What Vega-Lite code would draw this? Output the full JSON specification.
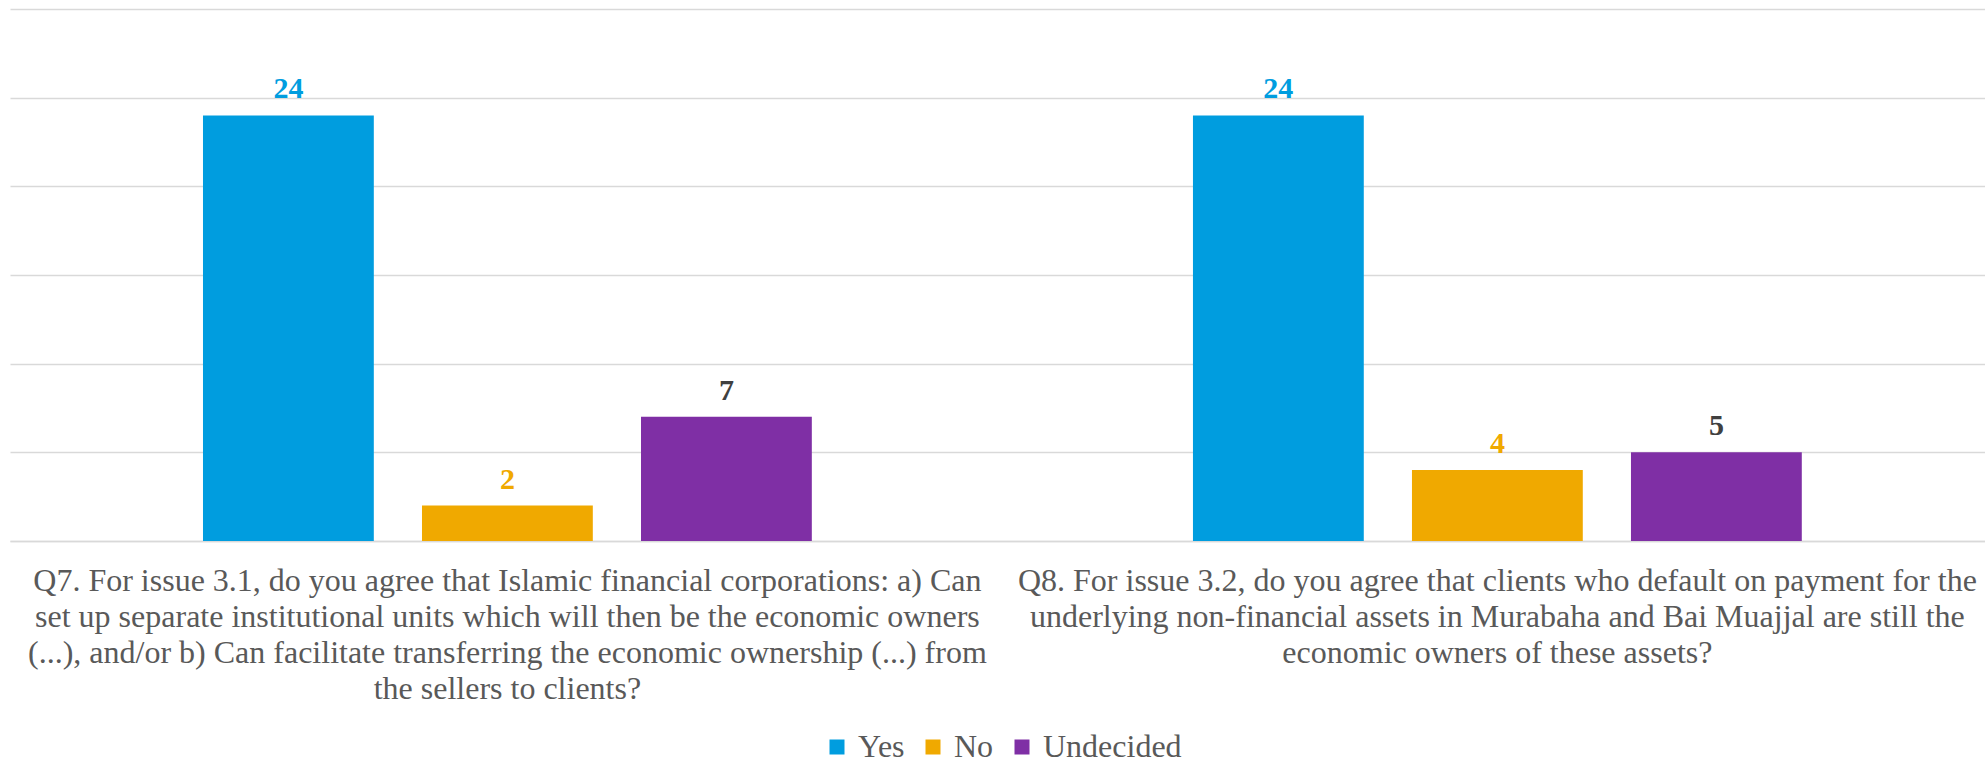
{
  "$schema": "https://vega.github.io/schema/vega-lite/v6.json",
  "width": 1975,
  "height": 532,
  "padding": {"left": 10, "top": 9, "right": 0, "bottom": 0},
  "background": "#ffffff",
  "data": {
    "values": [
      {"question": "Q7. For issue 3.1, do you agree that Islamic financial corporations: a) Can\nset up separate institutional units which will then be the economic owners\n(...), and/or b) Can facilitate transferring the economic ownership (...) from\nthe sellers to clients?", "answer": "Yes", "count": 24},
      {"question": "Q7. For issue 3.1, do you agree that Islamic financial corporations: a) Can\nset up separate institutional units which will then be the economic owners\n(...), and/or b) Can facilitate transferring the economic ownership (...) from\nthe sellers to clients?", "answer": "No", "count": 2},
      {"question": "Q7. For issue 3.1, do you agree that Islamic financial corporations: a) Can\nset up separate institutional units which will then be the economic owners\n(...), and/or b) Can facilitate transferring the economic ownership (...) from\nthe sellers to clients?", "answer": "Undecided", "count": 7},
      {"question": "Q8. For issue 3.2, do you agree that clients who default on payment for the\nunderlying non-financial assets in Murabaha and Bai Muajjal are still the\neconomic owners of these assets?", "answer": "Yes", "count": 24},
      {"question": "Q8. For issue 3.2, do you agree that clients who default on payment for the\nunderlying non-financial assets in Murabaha and Bai Muajjal are still the\neconomic owners of these assets?", "answer": "No", "count": 4},
      {"question": "Q8. For issue 3.2, do you agree that clients who default on payment for the\nunderlying non-financial assets in Murabaha and Bai Muajjal are still the\neconomic owners of these assets?", "answer": "Undecided", "count": 5}
    ]
  },
  "encoding": {
    "x": {
      "field": "question",
      "type": "nominal",
      "sort": null,
      "scale": {"paddingInner": 0.385, "paddingOuter": 0.19, "align": 0.513},
      "axis": {
        "title": null,
        "labelAngle": 0,
        "labelAlign": "center",
        "labelBaseline": "top",
        "labelLimit": 0,
        "labelExpr": "split(datum.label, '\\n')",
        "labelFont": "Liberation Serif",
        "labelFontSize": 32,
        "labelLineHeight": 36.3,
        "labelColor": "#595959",
        "labelPadding": 24,
        "ticks": false,
        "domainColor": "#d9d9d9",
        "domainWidth": 1.5,
        "grid": false
      }
    },
    "xOffset": {
      "field": "answer",
      "type": "nominal",
      "sort": ["Yes", "No", "Undecided"],
      "scale": {"paddingInner": 0.22, "paddingOuter": 0}
    },
    "y": {
      "field": "count",
      "type": "quantitative",
      "scale": {"domain": [0, 30], "nice": false},
      "axis": {
        "title": null,
        "labels": false,
        "ticks": false,
        "domain": false,
        "values": [0, 5, 10, 15, 20, 25, 30],
        "gridColor": "#d9d9d9",
        "gridWidth": 1.5
      }
    }
  },
  "layer": [
    {
      "mark": {"type": "bar"},
      "encoding": {
        "color": {
          "field": "answer",
          "type": "nominal",
          "scale": {"domain": ["Yes", "No", "Undecided"], "range": ["#009ddf", "#f0a900", "#7f2fa5"]},
          "legend": {
            "title": null,
            "orient": "none",
            "legendX": 811,
            "legendY": 722,
            "direction": "horizontal",
            "symbolType": "square",
            "symbolSize": 225,
            "symbolStrokeWidth": 0,
            "labelFont": "Liberation Serif",
            "labelFontSize": 32,
            "labelColor": "#595959",
            "labelOffset": 5,
            "columnPadding": 12
          }
        }
      }
    },
    {
      "mark": {"type": "text", "font": "Liberation Serif", "fontSize": 30, "fontWeight": "bold", "baseline": "alphabetic", "dy": -17},
      "encoding": {
        "text": {"field": "count", "type": "quantitative"},
        "color": {
          "condition": {"test": "datum.answer === 'Undecided'", "value": "#404040"},
          "field": "answer",
          "type": "nominal",
          "legend": null
        }
      }
    }
  ],
  "config": {
    "view": {"stroke": null},
    "font": "Liberation Serif",
    "legend": {"labelFont": "Liberation Serif", "labelFontSize": 32, "labelColor": "#595959"},
    "text": {"font": "Liberation Serif"}
  }
}
